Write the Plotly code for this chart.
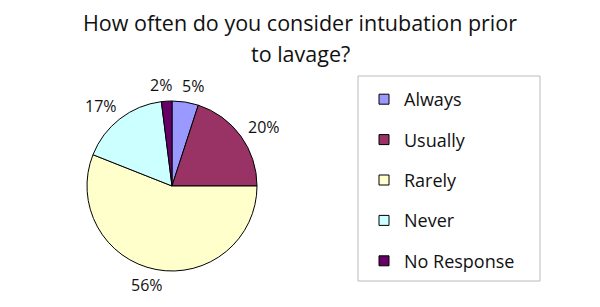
import math
import plotly.graph_objects as go

categories = ["Always", "Usually", "Rarely", "Never", "No Response"]
values = [5, 20, 56, 17, 2]
colors = ["#9999FF", "#993366", "#FFFFCC", "#CCFFFF", "#660066"]
title_line1 = "How often do you consider intubation prior"
title_line2 = "to lavage?"

W, H = 600, 307
cx, cy, r = 172, 186, 85
FONT = "Open Sans"

fig = go.Figure()
fig.add_trace(go.Pie(
    labels=categories, values=values, sort=False, direction="clockwise",
    rotation=0,
    marker=dict(colors=colors, line=dict(color="black", width=1)),
    textinfo="none",
    showlegend=False,
    domain=dict(x=[(cx - r) / W, (cx + r) / W], y=[(H - cy - r) / H, (H - cy + r) / H]),
))

# percentage labels placed outside the slices, derived from the values
total = sum(values)
annotations = []
cum = 0
for v in values:
    frac_mid = (cum + v / 2) / total
    cum += v
    ang = 2 * math.pi * frac_mid          # clockwise from 12 o'clock
    dx, dy = math.sin(ang), -math.cos(ang)
    txt = f"{round(100 * v / total)}%"
    w = 9 * len(txt)
    px = cx + dx * (r + 14) + dx * w / 2 + math.copysign(5 * (1 - abs(dx)), dx)
    py = cy + dy * (r + 10) + dy * 6
    annotations.append(dict(text=txt, x=px / W, y=1 - py / H, xref="paper", yref="paper",
                            xanchor="center", yanchor="middle", showarrow=False,
                            font=dict(family=FONT, size=16, color="#111")))

annotations.append(dict(text=title_line2, x=0.5, xref="paper", xanchor="center",
                        y=1 - 54 / H, yref="paper", yanchor="middle", showarrow=False,
                        font=dict(family=FONT, size=21.5, color="#111")))

for c, col in zip(categories, colors):
    fig.add_trace(go.Scatter(
        x=[None], y=[None], mode="markers", name=c, legendgroup=c,
        marker=dict(symbol="square", size=10, color=col, line=dict(color="black", width=1)),
    ))

fig.update_layout(
    width=W, height=H,
    margin=dict(l=0, r=0, t=0, b=0),
    paper_bgcolor="white", plot_bgcolor="white",
    xaxis=dict(visible=False), yaxis=dict(visible=False),
    title=dict(text=title_line1, x=0.5, xanchor="center", xref="paper",
               y=1 - 23 / H, yanchor="middle", yref="container",
               font=dict(family=FONT, size=21.5, color="#111")),
    annotations=annotations,
    shapes=[dict(type="rect", xref="paper", yref="paper",
                 x0=358 / W, x1=540 / W, y0=1 - 281 / H, y1=1 - 76 / H,
                 line=dict(color="#BBBBBB", width=1), fillcolor="rgba(0,0,0,0)")],
    legend=dict(x=364 / W, y=1 - 81 / H, xanchor="left", yanchor="top",
                borderwidth=0, bgcolor="rgba(0,0,0,0)",
                font=dict(family=FONT, size=18, color="#111"),
                tracegroupgap=14, itemwidth=30),
)
fig.write_html("out.html", config={"displayModeBar": False},
               post_script="document.body.style.margin='0';document.body.style.overflow='hidden';")
